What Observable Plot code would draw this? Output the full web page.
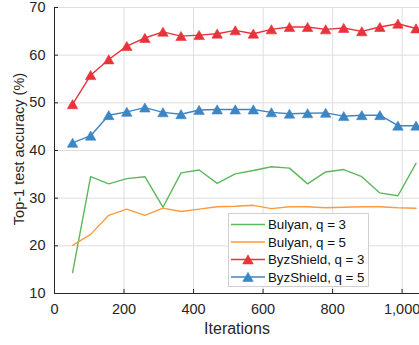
<!DOCTYPE html>
<html>
<head>
<meta charset="utf-8">
<script src="https://cdn.jsdelivr.net/npm/d3@7"></script>
<script src="https://cdn.jsdelivr.net/npm/@observablehq/plot@0.6"></script>
<style>
  html, body { margin: 0; padding: 0; background: #fff; }
  #chart { position: relative; width: 419px; height: 345px; overflow: hidden; }
</style>
</head>
<body>
<div id="chart"></div>
<script>
const iterations = [52, 104, 156, 208, 260, 312, 364, 416, 468, 520, 572, 624, 676, 728, 780, 832, 884, 936, 988, 1040];
const bulyanQ3 = [14.4, 34.5, 33.0, 34.1, 34.5, 28.1, 35.3, 35.9, 33.1, 35.1, 35.8, 36.6, 36.3, 33.0, 35.5, 36.0, 34.5, 31.1, 30.5, 37.3];
const bulyanQ5 = [20.1, 22.4, 26.4, 27.7, 26.4, 27.9, 27.2, 27.7, 28.2, 28.3, 28.5, 27.8, 28.2, 28.2, 28.0, 28.1, 28.2, 28.2, 28.0, 27.9];
const byzQ3 = [49.7, 55.8, 59.1, 61.9, 63.6, 64.9, 64.0, 64.2, 64.5, 65.2, 64.5, 65.4, 65.9, 65.9, 65.4, 65.7, 65.0, 65.9, 66.6, 65.6];
const byzQ5 = [41.6, 43.1, 47.4, 48.1, 49.0, 48.0, 47.6, 48.5, 48.6, 48.6, 48.6, 48.0, 47.7, 47.8, 47.9, 47.2, 47.4, 47.4, 45.2, 45.2];

const seriesNames = ["Bulyan, q = 3", "Bulyan, q = 5", "ByzShield, q = 3", "ByzShield, q = 5"];
const seriesColors = ["#5cb85c", "#ff9a3c", "#e8333b", "#3d86c6"];
const seriesMarkers = [false, false, true, true];
const seriesValues = [bulyanQ3, bulyanQ5, byzQ3, byzQ5];

const xTicks = [0, 200, 400, 600, 800, 1000];
const yTicks = [10, 20, 30, 40, 50, 60, 70];
const xLabel = "Iterations";
const yLabel = "Top-1 test accuracy (%)";

const rows = [];
seriesNames.forEach((name, s) => {
  seriesValues[s].forEach((v, i) => rows.push({series: name, x: iterations[i], y: v, marker: seriesMarkers[s]}));
});

const font = "Liberation Sans, Arial, Helvetica, sans-serif";
const ink = "#262626";

const plot = Plot.plot({
  width: 419,
  height: 345,
  marginLeft: 54,
  marginRight: 0,
  marginTop: 7,
  marginBottom: 52,
  style: {fontFamily: font, fontSize: "15px", color: ink, background: "#fff", overflow: "visible"},
  x: {domain: [0, 1050], ticks: xTicks},
  y: {domain: [10, 70], ticks: yTicks},
  color: {domain: seriesNames, range: seriesColors},
  marks: [
    Plot.gridX(xTicks, {stroke: "#dedede", strokeOpacity: 1}),
    Plot.gridY(yTicks, {stroke: "#dedede", strokeOpacity: 1}),
    Plot.axisX(xTicks, {tickSize: 0, tickPadding: 10, label: null, fontSize: 14.5, fill: ink}),
    Plot.axisY(yTicks, {tickSize: 0, tickPadding: 9, label: null, fontSize: 14.5, fill: ink}),
    // inward ticks
    Plot.ruleX(xTicks, {x: d => d, y1: 10, y2: 10.85, stroke: ink}),
    Plot.ruleY(yTicks, {y: d => d, x1: 0, x2: 11.5, stroke: ink}),
    Plot.ruleX([0], {stroke: ink}),
    Plot.ruleY([10], {stroke: ink}),
    Plot.line(rows, {x: "x", y: "y", z: "series", stroke: "series", strokeWidth: 1.4}),
    Plot.dot(rows.filter(d => d.marker), {x: "x", y: "y", fill: "series", symbol: "triangle", r: 3.9, dy: 1.4, stroke: "series", strokeWidth: 0.6})
  ]
});

const svg = d3.select(plot);
// axis titles
svg.append("text")
  .attr("x", 237).attr("y", 334)
  .attr("text-anchor", "middle")
  .style("font-family", font).style("font-size", "16px").attr("fill", ink)
  .text(xLabel);
svg.append("text")
  .attr("transform", "translate(24,149) rotate(-90)")
  .attr("text-anchor", "middle")
  .style("font-family", font).style("font-size", "14.5px").attr("fill", ink)
  .text(yLabel);

// legend
const lg = svg.append("g").attr("text-anchor", "start");
lg.append("rect").attr("x", 228.5).attr("y", 213.5).attr("width", 140).attr("height", 73)
  .attr("fill", "#fff").attr("stroke", "#d0d0d0");
seriesNames.forEach((name, i) => {
  const y = 224.5 + i * 17.5;
  lg.append("line").attr("x1", 231).attr("x2", 265).attr("y1", y).attr("y2", y)
    .attr("stroke", seriesColors[i]).attr("stroke-width", 1.4);
  if (seriesMarkers[i]) {
    lg.append("path").attr("d", d3.symbol(d3.symbolTriangle, 3.9 * 3.9 * Math.PI)())
      .attr("transform", `translate(248,${y + 1.4})`)
      .attr("fill", seriesColors[i]).attr("stroke", seriesColors[i]).attr("stroke-width", 0.6);
  }
  lg.append("text").attr("x", 268).attr("y", y).attr("dy", "0.35em")
    .attr("text-anchor", "start")
    .style("font-family", font).style("font-size", "13.3px").attr("fill", "#111")
    .text(name);
});

document.getElementById("chart").appendChild(plot);
</script>
</body>
</html>
